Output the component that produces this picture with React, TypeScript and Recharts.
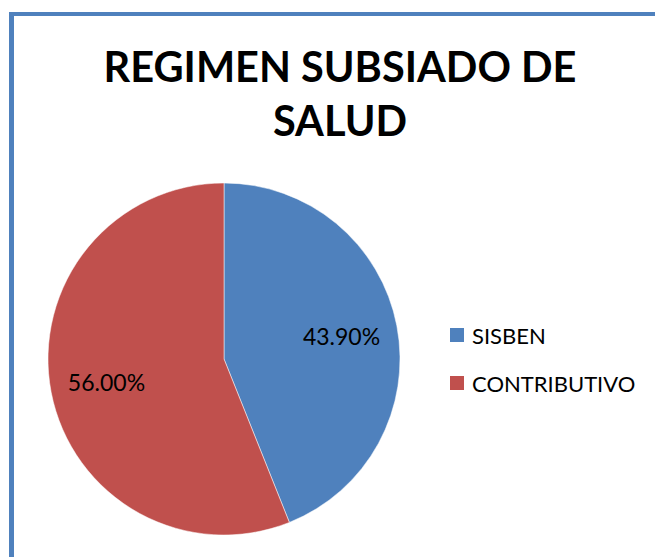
import { PieChart, Pie, Cell, Legend } from 'recharts';

const categories = ['SISBEN', 'CONTRIBUTIVO'];
const values = [43.9, 56.0];
const COLORS = ['#4F81BD', '#C0504D'];

const data = categories.map((name, i) => ({ name, value: values[i] }));

const RADIAN = Math.PI / 180;

const renderLabel = (props: any) => {
    const { cx, cy, midAngle, outerRadius, value } = props;
    const r = outerRadius * 0.68;
    const x = cx + r * Math.cos(-midAngle * RADIAN);
    const y = cy + r * Math.sin(-midAngle * RADIAN);
    return (
        <text x={x} y={y} fill="#000" textAnchor="middle" dominantBaseline="central" fontSize={23} fontFamily="Lato">
            {`${value.toFixed(2)}%`}
        </text>
    );
};

const renderLegend = (props: any) => {
    // keep the original series order
    const payload = [...props.payload].sort(
        (a: any, b: any) => categories.indexOf(a.value) - categories.indexOf(b.value)
    );
    return (
        <div>
            {payload.map((entry: any) => (
                <div key={entry.value} style={{ display: 'flex', alignItems: 'center', height: 48 }}>
                    <div style={{ width: 14, height: 14, background: entry.color, marginRight: 8 }} />
                    <span style={{ fontFamily: 'Lato', fontSize: 22, color: '#000' }}>{entry.value}</span>
                </div>
            ))}
        </div>
    );
};

export default function App() {
    return (
        <div style={{ position: 'relative', width: 655, height: 557, overflow: 'hidden', background: '#fff' }}>
            <style>{'body{margin:0}'}</style>
            <div
                style={{
                    position: 'absolute',
                    left: 9,
                    top: 12,
                    width: 720,
                    height: 620,
                    borderLeft: '5px solid #4F81BD',
                    borderTop: '4px solid #4F81BD',
                }}
            />
            <div
                style={{
                    position: 'absolute',
                    left: 0,
                    top: 39,
                    width: 680,
                    textAlign: 'center',
                    fontFamily: 'Lato',
                    fontWeight: 700,
                    fontSize: 41.5,
                    lineHeight: '54px',
                    color: '#000',
                }}
            >
                REGIMEN SUBSIADO DE
                <br />
                SALUD
            </div>
            <div style={{ position: 'absolute', left: 0, top: 0 }}>
                <PieChart width={655} height={557} margin={{ top: 0, right: 0, bottom: 0, left: 0 }}>
                    <Pie
                        data={data}
                        dataKey="value"
                        nameKey="name"
                        cx={224}
                        cy={359}
                        outerRadius={176}
                        startAngle={90}
                        endAngle={-270}
                        stroke="#fff"
                        strokeWidth={0.5}
                        label={renderLabel}
                        labelLine={false}
                        isAnimationActive={false}
                    >
                        {data.map((_, index) => (
                            <Cell key={`cell-${index}`} fill={COLORS[index % COLORS.length]} />
                        ))}
                    </Pie>
                    <Legend
                        layout="vertical"
                        content={renderLegend}
                        wrapperStyle={{ position: 'absolute', left: 450, top: 311, width: 200 }}
                    />
                </PieChart>
            </div>
        </div>
    );
}
